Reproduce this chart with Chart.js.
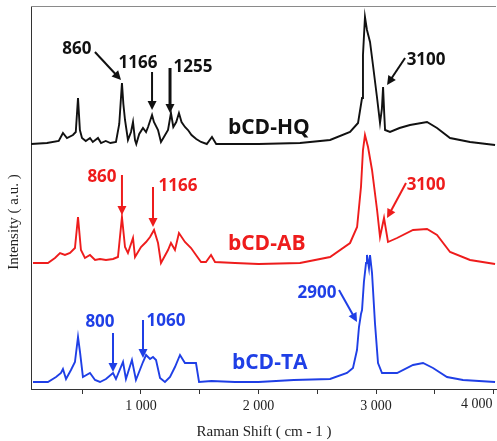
<!DOCTYPE html>
<html>
<head>
<meta charset="utf-8">
<script src="https://cdn.jsdelivr.net/npm/chart.js@4/dist/chart.umd.min.js"></script>
<style>
  body { margin: 0; background: #fff; }
  canvas { display: block; }
</style>
</head>
<body>
<canvas id="raman" width="497" height="441"></canvas>
<script>
// Raman shift (cm-1) and relative intensity for each trace
const shiftHQ = [64, 200, 300, 336, 370, 421, 445, 464, 480, 498, 530, 566, 590, 634, 660, 700, 740, 787, 815, 838, 850, 864, 889, 915, 932, 949, 960, 985, 1017, 1043, 1060, 1094, 1110, 1145, 1170, 1200, 1230, 1255, 1275, 1300, 1323, 1345, 1374, 1400, 1430, 1470, 1511, 1560, 1604, 1640, 1800, 2000, 2353, 2609, 2779, 2847, 2881, 2889, 2906, 2923, 2949, 2974, 3009, 3034, 3050, 3060, 3070, 3077, 3119, 3200, 3289, 3434, 3519, 3630, 3800, 4013];
const intensityHQ = [0, 1, 3, 11, 6, 9, 12, 46, 14, 6, 3, 6, 2, 6, 1, 3, 1, 2, 20, 61, 40, 24, 4, 12, 22, 4, 0, 10, 16, 12, 17, 29, 22, 14, 2, 8, 14, 31, 17, 22, 31, 22, 17, 14, 9, 5, 2, 0, 7, 0, 0, 0, 1, 4, 12, 21, 46, 89, 127, 114, 102, 79, 46, 21, 35, 57, 30, 14, 12, 16, 19, 22, 16, 6, 2, -1];

const shiftAB = [81, 208, 268, 311, 353, 396, 438, 464, 489, 523, 566, 609, 651, 702, 762, 804, 838, 864, 889, 932, 949, 1000, 1043, 1077, 1111, 1145, 1170, 1230, 1255, 1289, 1323, 1374, 1426, 1468, 1511, 1553, 1596, 1630, 1800, 2000, 2353, 2609, 2779, 2839, 2872, 2889, 2906, 2932, 2966, 3009, 3034, 3068, 3102, 3179, 3315, 3434, 3519, 3630, 3800, 4013];
const intensityAB = [0, 0, 5, 10, 8, 10, 15, 46, 13, 5, 8, 3, 4, 3, 4, 6, 46, 16, 10, 25, 6, 16, 21, 26, 33, 20, 0, 13, 20, 13, 30, 21, 15, 8, 1, 1, 8, 1, 0, -1, 0, 6, 20, 36, 76, 113, 128, 116, 93, 53, 26, 45, 21, 25, 33, 34, 28, 11, 3, -1];

const shiftTA = [81, 208, 277, 319, 336, 362, 404, 438, 464, 481, 506, 566, 609, 651, 702, 762, 787, 847, 872, 923, 957, 1017, 1043, 1077, 1102, 1128, 1162, 1204, 1247, 1289, 1332, 1374, 1417, 1468, 1494, 1600, 1800, 2000, 2300, 2609, 2753, 2804, 2838, 2855, 2872, 2881, 2897, 2915, 2923, 2940, 2949, 2966, 2991, 3017, 3051, 3179, 3315, 3400, 3485, 3604, 3740, 4013];
const intensityTA = [0, 0, 5, 9, 13, 3, 12, 20, 45, 30, 5, 9, 2, 0, 3, 9, 3, 20, 3, 22, 2, 20, 27, 23, 25, 22, 4, 0, 5, 15, 27, 19, 19, 19, 0, 1, 0, 0, 2, 3, 9, 14, 32, 55, 68, 72, 100, 119, 127, 114, 127, 109, 59, 19, 9, 9, 17, 19, 14, 5, 2, 0];

// vertical stacking offsets
const offsetHQ = 245;
const offsetAB = 126;
const offsetTA = 7;

const xTicks = [500, 1000, 1500, 2000, 2500, 3000, 3500, 4000];

const black = '#111111';
const red = '#ee1c1c';
const blue = '#1f3fe6';

// peak labels: text position and arrow (tail -> tip), all in data units
const labels = [
    { text: '860', x: 455, y: 340, from: [608, 337], to: [830, 309], color: black },
    { text: '1166', x: 974, y: 326, from: [1094, 317], to: [1094, 279], color: black },
    { text: '1255', x: 1443, y: 322, from: [1247, 321], to: [1247, 276], color: black, width: 3 },
    { text: '3100', x: 3426, y: 329, from: [3247, 331], to: [3094, 304], color: black },
    { text: '860', x: 668, y: 212, from: [838, 214], to: [838, 174], color: red },
    { text: '1166', x: 1315, y: 203, from: [1102, 202], to: [1102, 162], color: red },
    { text: '3100', x: 3426, y: 204, from: [3255, 206], to: [3094, 171], color: red },
    { text: '800', x: 651, y: 67, from: [762, 56], to: [762, 17], color: blue },
    { text: '1060', x: 1213, y: 68, from: [1017, 69], to: [1017, 31], color: blue },
    { text: '2900', x: 2498, y: 96, from: [2685, 99], to: [2838, 67], color: blue }
];
const names = [
    { text: 'bCD-HQ', x: 1740, y: 261, color: black },
    { text: 'bCD-AB', x: 1740, y: 145, color: red },
    { text: 'bCD-TA', x: 1774, y: 26, color: blue }
];

function toPoints(xs, ys, offset) {
    return xs.map((x, i) => ({ x: x, y: ys[i] + offset }));
}

function tickText(v) {
    return (v / 1000) + ' 000';
}

function drawArrow(ctx, x1, y1, x2, y2, color, width) {
    const ang = Math.atan2(y2 - y1, x2 - x1);
    const head = 9;
    ctx.strokeStyle = color;
    ctx.fillStyle = color;
    ctx.lineWidth = width;
    ctx.beginPath();
    ctx.moveTo(x1, y1);
    ctx.lineTo(x2 - Math.cos(ang) * head * 0.8, y2 - Math.sin(ang) * head * 0.8);
    ctx.stroke();
    ctx.beginPath();
    ctx.moveTo(x2, y2);
    ctx.lineTo(x2 - head * Math.cos(ang) + 4.5 * Math.sin(ang), y2 - head * Math.sin(ang) - 4.5 * Math.cos(ang));
    ctx.lineTo(x2 - head * Math.cos(ang) - 4.5 * Math.sin(ang), y2 - head * Math.sin(ang) + 4.5 * Math.cos(ang));
    ctx.closePath();
    ctx.fill();
}

const decorations = {
    id: 'decorations',
    afterDraw(chart) {
        const ctx = chart.ctx;
        const sx = chart.scales.x;
        const sy = chart.scales.y;
        const area = chart.chartArea;
        ctx.save();

        // top frame line
        ctx.strokeStyle = '#8a8a8a';
        ctx.lineWidth = 1;
        ctx.beginPath();
        ctx.moveTo(area.left, area.top + 0.5);
        ctx.lineTo(area.right, area.top + 0.5);
        ctx.stroke();

        labels.forEach((l) => {
            drawArrow(ctx, sx.getPixelForValue(l.from[0]), sy.getPixelForValue(l.from[1]),
                sx.getPixelForValue(l.to[0]), sy.getPixelForValue(l.to[1]), l.color, l.width || 2);
            ctx.fillStyle = l.color;
            ctx.font = 'bold 17px "Open Sans", sans-serif';
            ctx.textAlign = 'center';
            ctx.textBaseline = 'middle';
            ctx.fillText(l.text, sx.getPixelForValue(l.x), sy.getPixelForValue(l.y));
        });

        names.forEach((n) => {
            ctx.fillStyle = n.color;
            ctx.font = 'bold 21px "Open Sans", sans-serif';
            ctx.textAlign = 'left';
            ctx.textBaseline = 'middle';
            ctx.fillText(n.text, sx.getPixelForValue(n.x), sy.getPixelForValue(n.y));
        });

        // last tick label sits flush with the right edge
        const last = xTicks[xTicks.length - 1];
        ctx.fillStyle = '#222';
        ctx.font = '14px "Liberation Serif", serif';
        ctx.textAlign = 'right';
        ctx.textBaseline = 'middle';
        ctx.fillText(tickText(last), sx.getPixelForValue(last) - 1, 404);

        // axis titles
        ctx.font = '15px "Liberation Serif", serif';
        ctx.textAlign = 'center';
        ctx.fillText('Raman Shift ( cm - 1 )', 264, 432);
        ctx.translate(14, 222);
        ctx.rotate(-Math.PI / 2);
        ctx.fillText('Intensity ( a.u. )', 0, 0);
        ctx.restore();
    }
};

const ctx = document.getElementById('raman').getContext('2d');
const ramanChart = new Chart(ctx, {
    type: 'line',
    data: {
        datasets: [
            { label: 'bCD-HQ', data: toPoints(shiftHQ, intensityHQ, offsetHQ), borderColor: black },
            { label: 'bCD-AB', data: toPoints(shiftAB, intensityAB, offsetAB), borderColor: red },
            { label: 'bCD-TA', data: toPoints(shiftTA, intensityTA, offsetTA), borderColor: blue }
        ]
    },
    options: {
        responsive: false,
        animation: false,
        layout: { padding: { top: 6, right: 1, left: 0, bottom: 0 } },
        elements: {
            point: { radius: 0 },
            line: { borderWidth: 1.9, tension: 0 }
        },
        plugins: {
            legend: { display: false },
            tooltip: { enabled: false }
        },
        scales: {
            x: {
                type: 'linear',
                min: 64,
                max: 4021,
                afterBuildTicks: (scale) => {
                    scale.ticks = xTicks.map((v) => ({ value: v }));
                },
                afterFit: (scale) => {
                    scale.height = 52;
                    scale.paddingLeft = 0;
                    scale.paddingRight = 0;
                },
                grid: { drawOnChartArea: false, drawTicks: true, tickLength: 5, color: '#333' },
                border: { color: '#333', width: 1 },
                ticks: {
                    padding: 4,
                    maxRotation: 0,
                    autoSkip: false,
                    color: '#222',
                    font: { family: '"Liberation Serif", serif', size: 14 },
                    callback: (v) => (v % 1000 === 0 && v < 4000 ? tickText(v) : '')
                }
            },
            y: {
                min: 0,
                max: 383,
                afterFit: (scale) => { scale.width = 31; },
                grid: { display: false },
                border: { color: '#333', width: 1 },
                ticks: { display: false }
            }
        }
    },
    plugins: [decorations]
});
</script>
</body>
</html>
